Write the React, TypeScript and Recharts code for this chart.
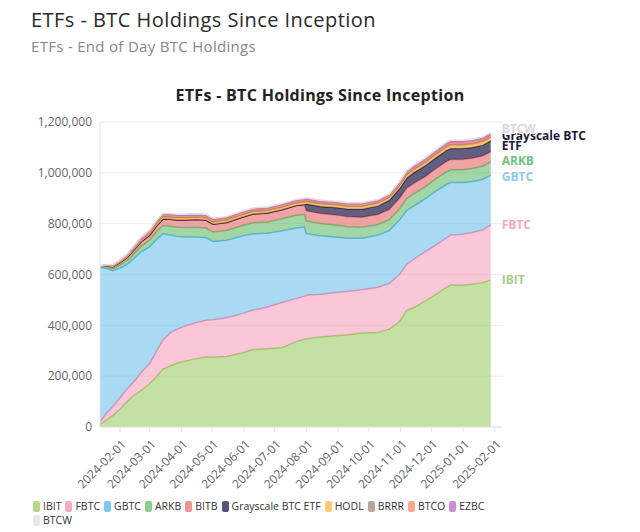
import React from 'react';
import { AreaChart, Area, XAxis, YAxis, CartesianGrid } from 'recharts';

const FONT = "'Open Sans', 'DejaVu Sans', sans-serif";

// end-of-day sample dates
const DATES = [
    '2024-01-11', '2024-01-18', '2024-01-25', '2024-02-01', '2024-02-08', '2024-02-15', '2024-02-22',
    '2024-03-01', '2024-03-08', '2024-03-14', '2024-03-21', '2024-03-28', '2024-04-05', '2024-04-15',
    '2024-04-25', '2024-05-02', '2024-05-15', '2024-05-31', '2024-06-10', '2024-06-24', '2024-07-08',
    '2024-07-22', '2024-07-30', '2024-08-01', '2024-08-15', '2024-09-01', '2024-09-10', '2024-09-24',
    '2024-10-10', '2024-10-21', '2024-10-31', '2024-11-07', '2024-11-14', '2024-11-25', '2024-12-05',
    '2024-12-16', '2024-12-20', '2024-12-31', '2025-01-10', '2025-01-20', '2025-01-28',
];

// holdings in thousand BTC
const IBIT = [5, 25, 45, 70, 100, 125, 145, 170, 200, 228, 240, 252, 260, 268, 275, 274, 277, 292, 305, 308, 312, 335, 345, 347, 354, 360, 362, 370, 372, 385, 415, 458, 470, 495, 520, 550, 559, 558, 562, 568, 578];
const FBTC = [5, 25, 35, 45, 50, 55, 70, 80, 100, 114, 130, 133, 138, 142, 145, 148, 153, 155, 155, 164, 178, 170, 170, 171, 168, 170, 171, 170, 178, 180, 185, 182, 190, 195, 195, 195, 196, 200, 203, 207, 217];
const GBTC = [618, 575, 535, 510, 490, 485, 475, 460, 440, 418, 385, 365, 350, 338, 325, 308, 305, 305, 300, 290, 282, 278, 272, 243, 230, 217, 210, 203, 205, 208, 215, 212, 210, 208, 212, 210, 207, 204, 201, 199, 196];
const ARKB = [1, 5, 8, 12, 15, 18, 22, 25, 30, 33, 35, 36, 37, 38, 38, 37, 38, 41, 44, 45, 47, 50, 50, 50, 49, 47, 45, 43, 42, 43, 45, 47, 48, 47, 48, 50, 50, 50, 51, 52, 52];
const BITB = [1, 5, 8, 10, 12, 15, 18, 20, 23, 25, 27, 28, 29, 30, 31, 31, 32, 33, 34, 35, 36, 38, 38, 39, 39, 39, 39, 39, 39, 40, 40, 41, 41, 40, 40, 40, 40, 40, 40, 40, 40];
const MINI = [0, 0, 0, 0, 0, 0, 0, 0, 0, 0, 0, 0, 0, 0, 0, 0, 0, 0, 0, 0, 0, 0, 0, 27, 28, 30, 31, 32, 34, 36, 38, 40, 42, 43, 43, 44, 44, 44, 43, 43, 43];
const HODL = [0.2, 1, 2, 3, 4, 5, 5.5, 6, 6.5, 7, 7, 7, 7, 7, 7, 7, 7.5, 8, 8, 8, 8, 8.5, 8.5, 8.5, 8.5, 8.5, 8.5, 9, 9, 9, 9.5, 10, 10.5, 11, 11, 11.5, 11.5, 11.5, 11.5, 12, 12];
const BRRR = [0.5, 1, 1.5, 2, 2.5, 3, 3, 3.5, 3.5, 4, 4, 4, 4, 4, 4, 4, 4, 4, 4, 4, 4, 4, 4, 4, 4, 4, 4, 4, 4, 4, 4.5, 4.5, 4.5, 4.5, 5, 5, 5, 5, 5, 5, 5];
const BTCO = [0.3, 0.8, 1.5, 2, 2.5, 3, 3.5, 4, 4.5, 5, 5, 5, 5, 5, 5, 5, 5, 5, 5, 5, 5, 5, 5, 5, 5, 5, 5, 5, 5, 5, 5.5, 6, 6, 6, 6, 6, 6, 6, 6, 6, 6];
const EZBC = [0.5, 1, 1.5, 2, 3, 4, 4, 4.5, 5, 5, 5, 5, 5, 5, 5, 5, 5, 5, 5, 5, 5, 5, 5, 5, 5, 5, 5, 5, 5, 5, 5.5, 6, 6, 6, 6.5, 6.5, 6.5, 6.5, 6.5, 6.5, 6.5];
const BTCW = [0.1, 0.3, 0.5, 0.7, 0.9, 1, 1.2, 1.4, 1.6, 1.8, 2, 2, 2, 2, 2, 2, 2, 2, 2, 2, 2, 2, 2, 2, 2, 2, 2, 2, 2, 2, 2.5, 2.5, 2.5, 3, 3, 3, 3, 3, 3, 3, 3];

const X_TICKS = [
    '2024-02-01', '2024-03-01', '2024-04-01', '2024-05-01', '2024-06-01', '2024-07-01', '2024-08-01',
    '2024-09-01', '2024-10-01', '2024-11-01', '2024-12-01', '2025-01-01', '2025-02-01',
];
const Y_TICKS = [0, 200000, 400000, 600000, 800000, 1000000, 1200000];

const SERIES = [
    { key: 'IBIT', values: IBIT, color: '#9ccc65', op: 0.6, label: ['IBIT'], labelColor: '#a8d08a', shift: 0 },
    { key: 'FBTC', values: FBTC, color: '#f48fb1', op: 0.5, label: ['FBTC'], labelColor: '#f5a9c3', shift: 0 },
    { key: 'GBTC', values: GBTC, color: '#56b4e9', op: 0.5, label: ['GBTC'], labelColor: '#8dcbee', shift: 2 },
    { key: 'ARKB', values: ARKB, color: '#66bb6a', op: 0.6, label: ['ARKB'], labelColor: '#6fbf7d', shift: -1 },
    { key: 'BITB', values: BITB, color: '#e57373', op: 0.65, label: null, labelColor: '', shift: 0 },
    { key: 'Grayscale BTC ETF', values: MINI, color: '#1e1b4b', op: 0.7, label: ['Grayscale BTC', 'ETF'], labelColor: '#1c1a3c', shift: 0 },
    { key: 'HODL', values: HODL, color: '#ffb74d', op: 0.8, label: null, labelColor: '', shift: 0 },
    { key: 'BRRR', values: BRRR, color: '#a1887f', op: 0.7, label: null, labelColor: '', shift: 0 },
    { key: 'BTCO', values: BTCO, color: '#ff8a65', op: 0.7, label: null, labelColor: '', shift: 0 },
    { key: 'EZBC', values: EZBC, color: '#ba68c8', op: 0.6, label: null, labelColor: '', shift: 0 },
    { key: 'BTCW', values: BTCW, color: '#e0e0e0', op: 0.8, label: ['BTCW'], labelColor: '#d9d9d9', shift: -4 },
];

const START = Date.UTC(2024, 0, 11);
const dayOf = (s: string) => (Date.parse(s) - START) / 86400000;

const DATA = DATES.map((dt, i) => {
    const row: Record<string, number> = { d: dayOf(dt) };
    SERIES.forEach((s) => { row[s.key] = s.values[i] * 1000; });
    return row;
});

const fmt = (v: number) => v.toLocaleString('en-US');

const XTick = (props: any) => {
    const { x, y, payload } = props;
    const idx = X_TICKS.findIndex((t) => dayOf(t) === payload.value);
    return (
        <g transform={`translate(${x + 4},${y + 8})`}>
            <text x={0} y={0} dy="0.35em" textAnchor="end" transform="rotate(-45)" fill="#666" fontSize={12}>
                {X_TICKS[idx]}
            </text>
        </g>
    );
};

const endLabel = (s: typeof SERIES[number]) => (props: any) => {
    const { x, y, index } = props;
    if (index !== DATES.length - 1 || !s.label) return null;
    const lines = s.label;
    const top = y + s.shift - (lines.length - 1) * 5;
    return (
        <text x={x + 11} y={top} fill={s.labelColor} fontSize={12} fontWeight={700}
            stroke={s.key === 'BTCW' ? '#fff' : 'none'} strokeWidth={2} style={{ paintOrder: 'stroke' }}>
            {lines.map((l, i) => (
                <tspan key={i} x={x + 11} dy={i === 0 ? '0.35em' : 10}>{l}</tspan>
            ))}
        </text>
    );
};

export default function App() {
    return (
        <div style={{ position: 'absolute', left: 0, top: 0, width: 640, height: 532, background: '#fff', fontFamily: FONT }}>
            <div style={{ position: 'absolute', left: 31, top: 6, fontSize: 20, letterSpacing: 0.45, color: '#2a2a2a', whiteSpace: 'nowrap' }}>
                ETFs - BTC Holdings Since Inception
            </div>
            <div style={{ position: 'absolute', left: 31, top: 36, fontSize: 15, letterSpacing: 0.3, color: '#888', whiteSpace: 'nowrap' }}>
                ETFs - End of Day BTC Holdings
            </div>
            <div style={{ position: 'absolute', left: 0, width: 640, top: 84, textAlign: 'center', fontSize: 16, letterSpacing: 0.3, fontWeight: 700, color: '#222' }}>
                ETFs - BTC Holdings Since Inception
            </div>
            <div style={{ position: 'absolute', left: 0, top: 0 }}>
                <AreaChart width={640} height={500} data={DATA} margin={{ top: 122, right: 137, left: 40, bottom: 3 }}>
                    <CartesianGrid vertical={false} stroke="#eeeeee" />
                    <XAxis dataKey="d" type="number" domain={[1.5, 395]} ticks={X_TICKS.map(dayOf)}
                        tick={<XTick />} height={70} interval={0} tickSize={5}
                        axisLine={{ stroke: '#e3e3e3' }} tickLine={{ stroke: '#e3e3e3' }} allowDataOverflow />
                    <YAxis type="number" domain={[0, 1200000]} ticks={Y_TICKS} tickFormatter={fmt} width={60}
                        tick={{ fill: '#666', fontSize: 12 }} axisLine={{ stroke: '#e3e3e3' }} tickLine={false} />
                    {SERIES.map((s) => (
                        <Area key={s.key} type="linear" dataKey={s.key} stackId="1" stroke={s.color} strokeWidth={1.5}
                            fill={s.color} fillOpacity={s.op} isAnimationActive={false} dot={false} activeDot={false}
                            label={endLabel(s)} />
                    ))}
                </AreaChart>
            </div>
            {/* Legend */}
            <div style={{ position: 'absolute', left: 33, top: 499, width: 475, display: 'flex', flexWrap: 'wrap', rowGap: 0, fontSize: 10.5, color: '#333', lineHeight: '14px' }}>
                {SERIES.map((s) => (
                    <span key={s.key} style={{ display: 'inline-flex', alignItems: 'center', marginRight: 4, whiteSpace: 'nowrap' }}>
                        <span style={{ display: 'inline-block', width: 7, height: 11, borderRadius: 2, background: s.color, opacity: 0.75, marginRight: 3 }} />
                        {s.key}
                    </span>
                ))}
            </div>
        </div>
    );
}
